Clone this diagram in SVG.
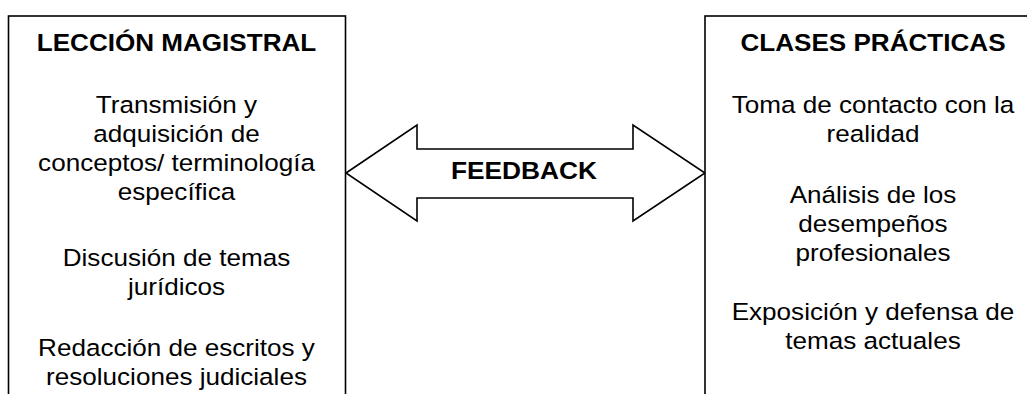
<svg xmlns="http://www.w3.org/2000/svg" width="1027" height="394" viewBox="0 0 1027 394">
  <style>
    .box { fill: #ffffff; stroke: #000000; stroke-width: 1.6; }
    .arrow { fill: #ffffff; stroke: #000000; stroke-width: 1.6; stroke-linejoin: miter; }
    text { font-family: "Liberation Sans", Arial, sans-serif; font-size: 23.5px; fill: #000000; text-anchor: middle; }
    .title { font-weight: bold; }
  </style>
  <rect width="1027" height="394" fill="#ffffff"/>
  <g id="connectors">
    <polygon class="arrow" points="346,173 417,125 417,149 633,149 633,125 705,173 633,221 633,198 417,198 417,221"/>
    <g transform="translate(524 0) scale(1.12 1)">
      <text class="title" x="0" y="179.5">FEEDBACK</text>
    </g>
  </g>
  <g id="leccion-magistral">
    <rect class="box" x="8.5" y="16" width="337" height="400"/>
    <g transform="translate(176.5 0) scale(1.11 1)">
      <text class="title" x="0" y="51">LECCIÓN MAGISTRAL</text>
      <text x="0" y="113">Transmisión y</text>
      <text x="0" y="142">adquisición de</text>
      <text x="0" y="171">conceptos/ terminología</text>
      <text x="0" y="200">específica</text>
      <text x="0" y="266">Discusión de temas</text>
      <text x="0" y="295">jurídicos</text>
      <text x="0" y="356">Redacción de escritos y</text>
      <text x="0" y="385">resoluciones judiciales</text>
    </g>
  </g>
  <g id="clases-practicas">
    <rect class="box" x="705" y="16" width="340" height="400"/>
    <g transform="translate(873 0) scale(1.11 1)">
      <text class="title" x="0" y="51">CLASES PRÁCTICAS</text>
      <text x="0" y="113">Toma de contacto con la</text>
      <text x="0" y="142">realidad</text>
      <text x="0" y="203">Análisis de los</text>
      <text x="0" y="232">desempeños</text>
      <text x="0" y="261">profesionales</text>
      <text x="0" y="320">Exposición y defensa de</text>
      <text x="0" y="349">temas actuales</text>
    </g>
  </g>
</svg>
